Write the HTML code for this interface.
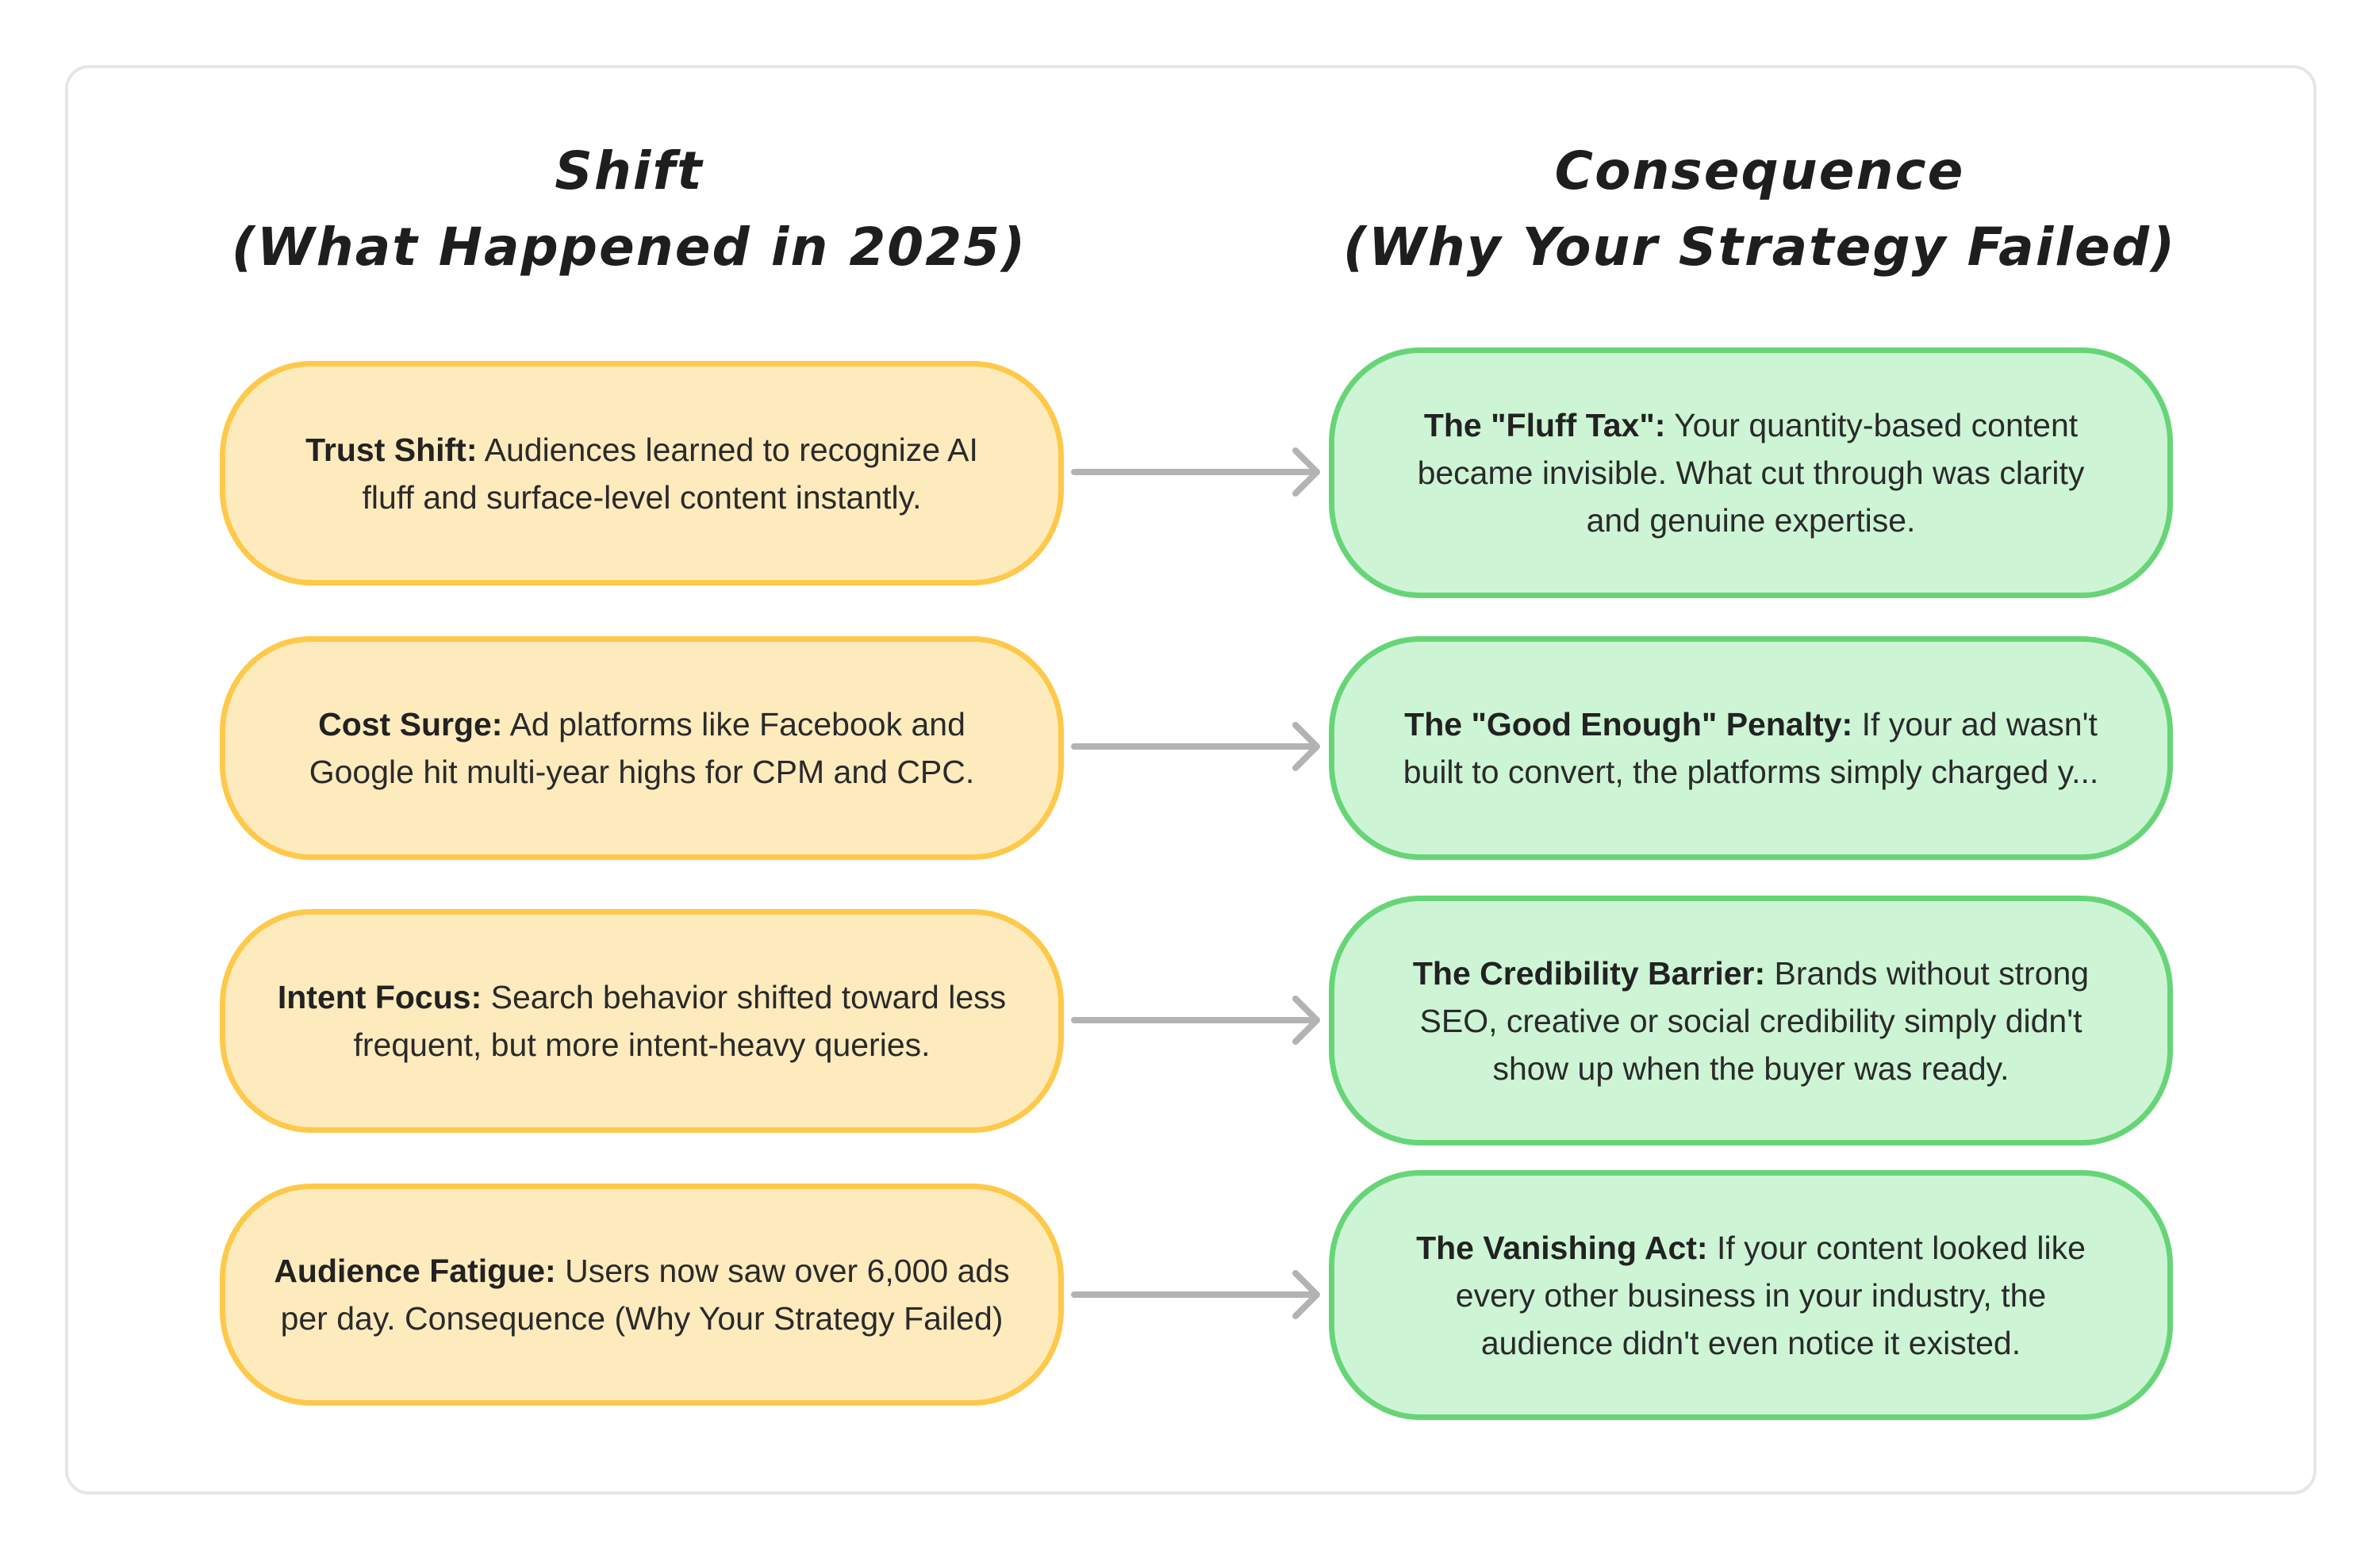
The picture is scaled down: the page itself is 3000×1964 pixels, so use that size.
<!DOCTYPE html>
<html><head><meta charset="utf-8"><style>
html,body{margin:0;padding:0;background:#fff;}
body{width:3000px;height:1964px;position:relative;overflow:hidden;font-family:"Liberation Sans","DejaVu Sans",sans-serif;}
.card{position:absolute;left:82px;top:82px;width:2838px;height:1802px;border:4px solid #e6e6e6;border-radius:30px;box-sizing:border-box;background:#fff;}
.title{position:absolute;width:1300px;text-align:center;font-family:"DejaVu Sans","Liberation Sans",sans-serif;font-style:oblique;font-weight:bold;font-size:66px;line-height:96px;color:#1e1e1e;letter-spacing:2px;}
.box{position:absolute;box-sizing:border-box;width:1064px;border-radius:115px/120px;display:flex;align-items:center;justify-content:center;text-align:center;font-size:41px;line-height:60px;color:#2a2a2a;padding:0 30px;}
.y{left:277px;background:#feebbd;border:7px solid #fec94a;}
.g{left:1675px;background:#cdf5d5;border:7px solid #67d577;}
b{font-weight:bold;color:#222;}
svg{position:absolute;left:0;top:0;}
</style></head><body>
<div class="card"></div>
<div class="title" style="left:143px;top:168px;">Shift<br>(What Happened in 2025)</div>
<div class="title" style="left:1568px;top:168px;">Consequence<br>(Why Your Strategy Failed)</div>

<div class="box y" style="top:455px;height:283px;"><div><b>Trust Shift:</b> Audiences learned to recognize AI<br>fluff and surface-level content instantly.</div></div>
<div class="box y" style="top:802px;height:282px;"><div><b>Cost Surge:</b> Ad platforms like Facebook and<br>Google hit multi-year highs for CPM and CPC.</div></div>
<div class="box y" style="top:1146px;height:282px;"><div><b>Intent Focus:</b> Search behavior shifted toward less<br>frequent, but more intent-heavy queries.</div></div>
<div class="box y" style="top:1492px;height:280px;"><div><b>Audience Fatigue:</b> Users now saw over 6,000 ads<br>per day. Consequence (Why Your Strategy Failed)</div></div>

<div class="box g" style="top:438px;height:316px;"><div><b>The "Fluff Tax":</b> Your quantity-based content<br>became invisible. What cut through was clarity<br>and genuine expertise.</div></div>
<div class="box g" style="top:802px;height:282px;"><div><b>The "Good Enough" Penalty:</b> If your ad wasn't<br>built to convert, the platforms simply charged y...</div></div>
<div class="box g" style="top:1129px;height:315px;"><div><b>The Credibility Barrier:</b> Brands without strong<br>SEO, creative or social credibility simply didn't<br>show up when the buyer was ready.</div></div>
<div class="box g" style="top:1475px;height:315px;"><div><b>The Vanishing Act:</b> If your content looked like<br>every other business in your industry, the<br>audience didn't even notice it existed.</div></div>

<svg width="3000" height="1964" viewBox="0 0 3000 1964">
<g stroke="#b3b3b3" stroke-width="8" fill="none" stroke-linecap="round" stroke-linejoin="round">
<path d="M1354 595H1660M1633 568L1660 595L1633 622"/>
<path d="M1354 941H1660M1633 914L1660 941L1633 968"/>
<path d="M1354 1286H1660M1633 1259L1660 1286L1633 1313"/>
<path d="M1354 1632H1660M1633 1605L1660 1632L1633 1659"/>
</g>
</svg>
</body></html>
